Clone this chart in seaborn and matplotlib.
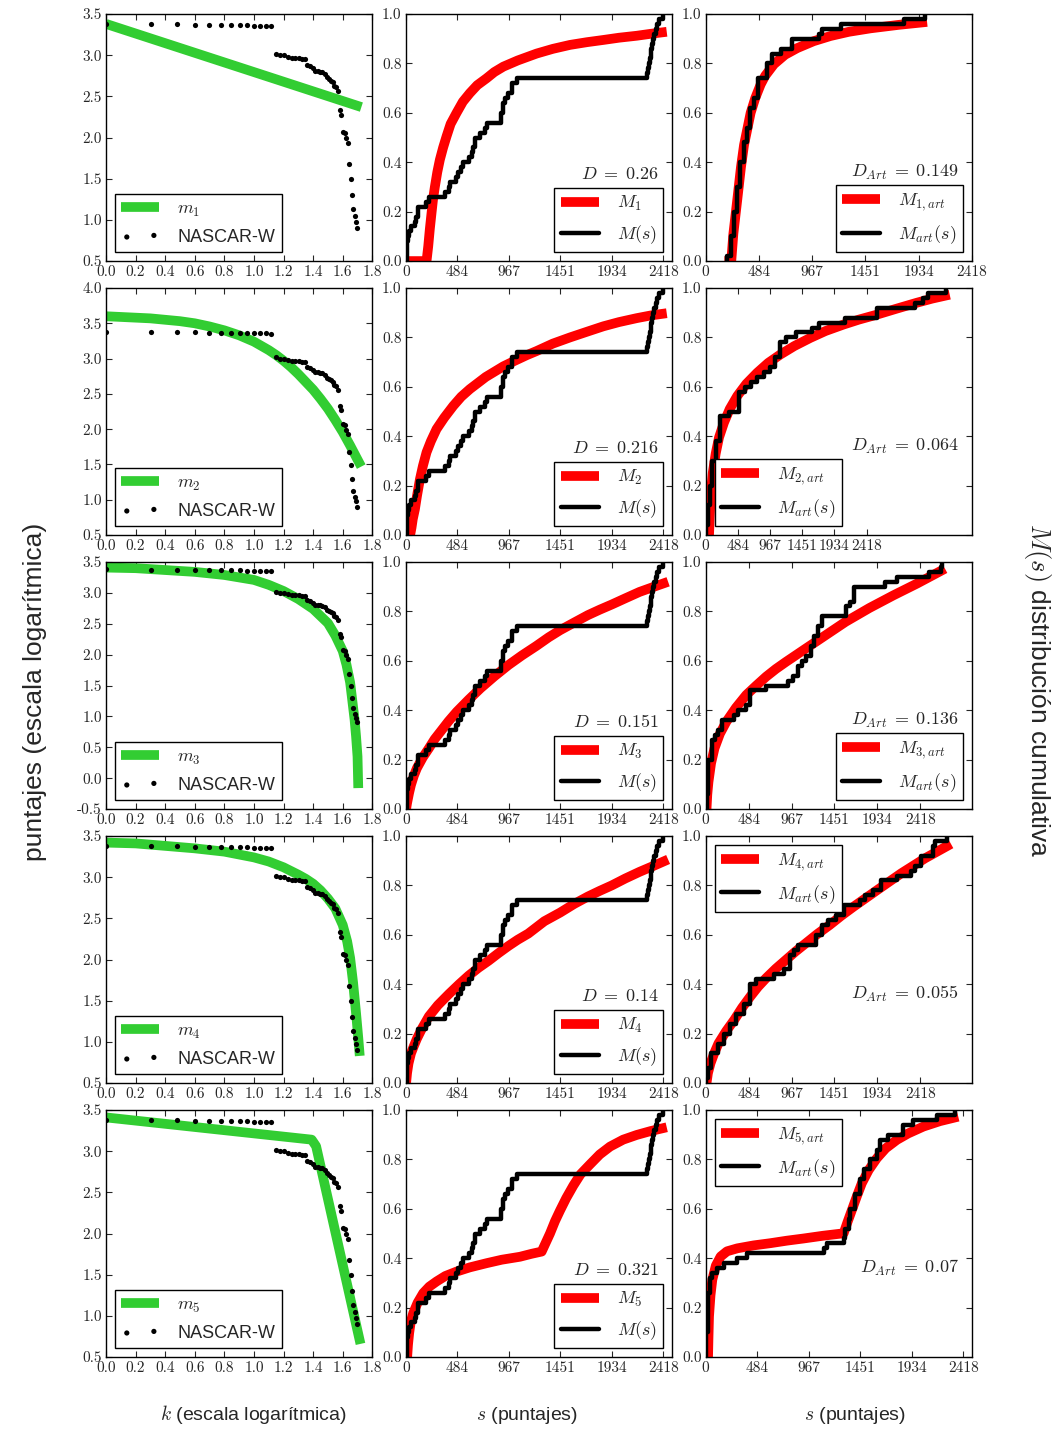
import numpy as np
import pandas as pd
import seaborn as sns
import matplotlib
matplotlib.use('Agg')
import matplotlib.pyplot as plt

# NASCAR-W final scores (puntajes), ranked from k=1
scores = [2418, 2380, 2360, 2345, 2330, 2320, 2315, 2305, 2300, 2290, 2280, 2270, 2265,
          1047, 1000, 1000, 955, 933, 912, 912, 891, 891,
          759, 741, 692, 646, 646, 631, 617, 589, 537, 513, 490, 468, 417, 407, 363,
          214, 190, 117, 115, 98, 85, 48, 31, 20, 13.5, 11, 9.5, 8]

# fitted rank models m_i (log k, log s)
m_logk = [
    [0.0, 1.726],
    [0.0, 0.2, 0.3, 0.4, 0.5, 0.6, 0.7, 0.8, 0.9, 1.0, 1.1, 1.15, 1.2, 1.25, 1.3, 1.35, 1.4, 1.45,
     1.5, 1.55, 1.6, 1.65, 1.7, 1.725],
    [0.0, 0.2, 0.4, 0.6, 0.8, 1.0, 1.1, 1.15, 1.2, 1.3, 1.4, 1.5, 1.55, 1.6, 1.625, 1.65, 1.68, 1.69,
     1.70, 1.705],
    [0.0, 0.2, 0.4, 0.6, 0.8, 1.0, 1.1, 1.2, 1.3, 1.35, 1.4, 1.45, 1.5, 1.55, 1.6, 1.63, 1.65, 1.67,
     1.69, 1.705, 1.715],
    [0.0, 1.39, 1.42, 1.72],
]
m_logs = [
    [3.38, 2.37],
    [3.60, 3.58, 3.57, 3.55, 3.53, 3.50, 3.455, 3.40, 3.33, 3.24, 3.12, 3.05, 2.97, 2.88, 2.78, 2.67,
     2.56, 2.43, 2.29, 2.13, 1.96, 1.77, 1.57, 1.47],
    [3.41, 3.40, 3.37, 3.34, 3.29, 3.21, 3.13, 3.08, 3.03, 2.90, 2.74, 2.51, 2.31, 2.06, 1.84, 1.55,
     0.95, 0.68, 0.35, -0.16],
    [3.42, 3.41, 3.38, 3.35, 3.31, 3.24, 3.19, 3.12, 3.03, 2.98, 2.92, 2.84, 2.74, 2.62, 2.42, 2.22,
     2.02, 1.72, 1.35, 1.05, 0.83],
    [3.41, 3.14, 3.06, 0.66],
]

# model cumulative distributions M_i(s) (middle column)
M_s = [
    [0, 194, 210, 225, 241, 255, 272, 295, 319, 350, 382, 420, 476, 535, 601, 670, 758, 830, 915, 1050,
     1228, 1380, 1541, 1700, 1854, 2000, 2167, 2300, 2449],
    [40, 53, 65, 85, 105, 132, 160, 194, 235, 288, 360, 445, 520, 601, 750, 915, 1020, 1134, 1228, 1380,
     1541, 1700, 1854, 2000, 2167, 2300, 2449],
    [2, 11, 30, 48, 75, 104, 160, 216, 270, 328, 400, 478, 590, 701, 830, 963, 1090, 1224, 1340, 1448,
     1580, 1709, 1820, 1933, 2060, 2194, 2330, 2462],
    [2, 11, 25, 48, 75, 104, 150, 216, 300, 403, 500, 590, 680, 776, 870, 963, 1050, 1149, 1300, 1448,
     1580, 1709, 1820, 1933, 2060, 2194, 2330, 2462],
    [12, 20, 31, 45, 69, 110, 163, 220, 288, 370, 476, 600, 758, 900, 1071, 1180, 1275, 1353, 1400,
     1447, 1505, 1572, 1640, 1729, 1820, 1917, 2040, 2167, 2300, 2449],
]
M_val = [
    [0, 0, 0.06, 0.13, 0.195, 0.25, 0.30, 0.36, 0.41, 0.46, 0.505, 0.555, 0.60, 0.645, 0.68, 0.712,
     0.74, 0.765, 0.787, 0.812, 0.84, 0.859, 0.875, 0.886, 0.895, 0.904, 0.912, 0.92, 0.928],
    [0, 0.03, 0.065, 0.105, 0.16, 0.226, 0.28, 0.335, 0.38, 0.429, 0.475, 0.523, 0.56, 0.591, 0.64,
     0.683, 0.705, 0.728, 0.745, 0.775, 0.80, 0.823, 0.845, 0.862, 0.878, 0.889, 0.898],
    [0, 0.024, 0.065, 0.098, 0.135, 0.166, 0.21, 0.246, 0.283, 0.315, 0.355, 0.394, 0.443, 0.489, 0.537,
     0.583, 0.622, 0.66, 0.695, 0.724, 0.755, 0.785, 0.807, 0.828, 0.853, 0.879, 0.90, 0.92],
    [0, 0.04, 0.08, 0.12, 0.15, 0.18, 0.22, 0.27, 0.315, 0.36, 0.40, 0.435, 0.466, 0.495, 0.526, 0.555,
     0.58, 0.605, 0.655, 0.69, 0.725, 0.755, 0.778, 0.80, 0.828, 0.855, 0.88, 0.905],
    [0, 0.05, 0.097, 0.14, 0.178, 0.22, 0.259, 0.285, 0.306, 0.328, 0.346, 0.363, 0.38, 0.394, 0.406,
     0.418, 0.427, 0.50, 0.55, 0.593, 0.643, 0.694, 0.74, 0.78, 0.82, 0.852, 0.88, 0.899, 0.915, 0.93],
]

# model distributions for the artificial samples (right column)
Ma_s = [
    [170, 232, 251, 287, 320, 348, 408, 450, 499, 540, 620, 720, 831, 980, 1133, 1300, 1496, 1750, 2010],
    [50, 60, 75, 105, 150, 200, 274, 360, 474, 610, 773, 940, 1122, 1330, 1571, 1800, 2069, 2300, 2568,
     2850, 3166, 3400, 3665],
    [9, 18, 31, 60, 99, 160, 233, 340, 457, 570, 681, 790, 905, 1128, 1352, 1576, 1845, 2114, 2382, 2696],
    [9, 25, 54, 95, 143, 230, 322, 410, 502, 590, 681, 790, 905, 1010, 1128, 1260, 1397, 1530, 1666,
     1935, 2203, 2472, 2763],
    [22, 26, 31, 45, 62, 95, 140, 200, 296, 450, 608, 760, 920, 1100, 1295, 1330, 1373, 1420, 1466,
     1530, 1607, 1690, 1794, 1900, 2044, 2200, 2371],
]
Ma_val = [
    [0, 0, 0.11, 0.25, 0.38, 0.47, 0.60, 0.66, 0.715, 0.75, 0.797, 0.835, 0.862, 0.89, 0.911, 0.928,
     0.942, 0.956, 0.968],
    [0, 0.07, 0.16, 0.25, 0.33, 0.395, 0.455, 0.51, 0.563, 0.612, 0.657, 0.697, 0.731, 0.765, 0.798,
     0.826, 0.852, 0.872, 0.892, 0.915, 0.94, 0.957, 0.973],
    [0, 0.06, 0.11, 0.185, 0.246, 0.305, 0.354, 0.41, 0.462, 0.50, 0.536, 0.567, 0.596, 0.65, 0.704,
     0.758, 0.814, 0.865, 0.913, 0.973],
    [0, 0.04, 0.08, 0.12, 0.16, 0.21, 0.256, 0.305, 0.35, 0.39, 0.425, 0.463, 0.499, 0.532, 0.566,
     0.604, 0.64, 0.678, 0.714, 0.782, 0.849, 0.91, 0.968],
    [0, 0.08, 0.164, 0.25, 0.313, 0.37, 0.407, 0.428, 0.44, 0.452, 0.461, 0.471, 0.48, 0.491, 0.501,
     0.545, 0.596, 0.652, 0.704, 0.757, 0.805, 0.845, 0.879, 0.905, 0.933, 0.955, 0.973],
]

# empirical cumulative distribution of the artificial samples (step vertices)
art_s = [
    [196, 196, 227, 257, 287, 311, 348, 372, 402, 438, 474, 559, 604, 680, 786, 1028, 1058, 1224, 1798, 1995],
    [0, 10, 35, 65, 100, 150, 214, 349, 499, 583, 673, 773, 873, 962, 1047, 1122, 1212, 1361, 1596, 1695,
     2094, 2568, 3141, 3266, 3341, 3605],
    [9, 9, 22, 76, 107, 143, 188, 322, 367, 457, 502, 681, 927, 985, 1039, 1084, 1128, 1182, 1218, 1263,
     1307, 1576, 1621, 1666, 2024, 2158, 2517, 2651, 2665],
    [4, 4, 22, 63, 143, 210, 278, 345, 434, 502, 569, 770, 882, 949, 994, 1039, 1240, 1307, 1375, 1464,
     1554, 1733, 1800, 1890, 1979, 2158, 2315, 2360, 2427, 2561, 2584, 2718],
    [6, 6, 22, 41, 62, 109, 172, 296, 390, 1108, 1139, 1295, 1310, 1342, 1357, 1404, 1451, 1482, 1544,
     1607, 1638, 1716, 1856, 1950, 2168, 2340],
]
art_val = [
    [0, .02, .10, .20, .30, .40, .48, .54, .62, .66, .74, .80, .84, .86, .90, .92, .94, .96, .98, 1.0],
    [0, .04, .12, .20, .30, .38, .48, .50, .58, .60, .62, .64, .66, .68, .72, .78, .80, .82, .84, .86,
     .88, .92, .94, .96, .98, 1.0],
    [0, .06, .20, .28, .30, .32, .36, .38, .40, .42, .48, .50, .52, .54, .58, .60, .62, .66, .70, .74,
     .78, .82, .84, .90, .92, .94, .96, .98, 1.0],
    [0, .02, .06, .12, .16, .20, .24, .28, .32, .40, .42, .44, .46, .52, .54, .56, .60, .64, .66, .68,
     .72, .74, .76, .78, .82, .84, .86, .88, .92, .96, .98, 1.0],
    [0, .10, .26, .32, .34, .36, .38, .40, .42, .44, .46, .48, .52, .56, .60, .66, .72, .76, .80, .84,
     .88, .90, .94, .96, .98, 1.0],
]

D_vals = ['0.26', '0.216', '0.151', '0.14', '0.321']
D_art = ['0.149', '0.064', '0.136', '0.055', '0.07']
left_ylims = [(0.5, 3.5), (0.5, 4.0), (-0.5, 3.5), (0.5, 3.5), (0.5, 3.5)]
right_xmax = [2418, 4000, 3000, 3000, 2500]
right_legloc = ['lower right', 'lower left', 'lower right', 'upper left', 'upper left']
s_ticks = [0, 483.6, 967.2, 1450.8, 1934.4, 2418]
s_labels = ['0', '484', '967', '1451', '1934', '2418']

sns.set_style('white', {'axes.edgecolor': 'black'})
plt.rcParams['font.family'] = ['Liberation Sans', 'DejaVu Sans']
plt.rcParams['mathtext.fontset'] = 'cm'
plt.rcParams['axes.unicode_minus'] = False

GREEN = '#32cd32'
RED = '#ff0000'

fig, axes = plt.subplots(5, 3, figsize=(10.54, 14.30), dpi=100)
fig.subplots_adjust(left=0.1006, right=0.9222, bottom=0.0510, top=0.9902, wspace=0.126, hspace=0.109)

rank = np.arange(1, len(scores) + 1)
df = pd.DataFrame({'logk': np.log10(rank), 'logs': np.log10(scores), 's': scores})

leg_kw = dict(fontsize=13, frameon=True, fancybox=False, framealpha=1, edgecolor='black',
              borderaxespad=0.5, handlelength=2.1, handletextpad=1.0, labelspacing=0.55, borderpad=0.35)


def style(ax):
    ax.tick_params(direction='in', top=True, right=True, bottom=True, left=True, length=4,
                   width=0.8, labelsize=11, pad=3, labelfontfamily='cmr10')
    for sp in ax.spines.values():
        sp.set_edgecolor('black')
        sp.set_linewidth(1.0)
    ax.set(xlabel='', ylabel='')


for i in range(5):
    # left: rank plot
    ax = axes[i, 0]
    sns.lineplot(x=m_logk[i], y=m_logs[i], ax=ax, color=GREEN, lw=7, sort=False, estimator=None,
                 solid_capstyle='butt', label=f'$m_{i + 1}$')
    sns.scatterplot(data=df, x='logk', y='logs', ax=ax, color='black', s=14, linewidth=0,
                    zorder=3, label='NASCAR-W')
    ax.set_xlim(0, 1.8)
    ax.set_ylim(*left_ylims[i])
    ax.set_xticks(np.arange(0, 1.81, 0.2))
    ax.set_xticklabels([f'{v:.1f}' for v in np.arange(0, 1.81, 0.2)])
    yt = np.arange(left_ylims[i][0], left_ylims[i][1] + 0.01, 0.5)
    ax.set_yticks(yt)
    ax.set_yticklabels([f'{v:.1f}' for v in yt])
    ax.legend(loc='lower left', scatterpoints=2, **leg_kw)
    style(ax)

    # middle: cumulative distribution of real scores
    ax = axes[i, 1]
    sns.lineplot(x=M_s[i], y=M_val[i], ax=ax, color=RED, lw=7, sort=False, estimator=None,
                 solid_capstyle='butt', label=f'$M_{i + 1}$')
    sns.ecdfplot(data=df, x='s', ax=ax, color='black', lw=3.2, label='$M(s)$')
    ax.set_xlim(0, 2500)
    ax.set_ylim(0, 1)
    ax.set_xticks(s_ticks)
    ax.set_xticklabels(s_labels)
    ax.set_yticks(np.arange(0, 1.01, 0.2))
    ax.set_yticklabels([f'{v:.1f}' for v in np.arange(0, 1.01, 0.2)])
    ax.text(0.95, 0.35, f'$D\\;=\\;{D_vals[i]}$', transform=ax.transAxes, ha='right', va='center',
            fontsize=13)
    ax.legend(loc='lower right', **leg_kw)
    style(ax)

    # right: artificial sample
    ax = axes[i, 2]
    sns.lineplot(x=Ma_s[i], y=Ma_val[i], ax=ax, color=RED, lw=7, sort=False, estimator=None,
                 solid_capstyle='butt', label=f'$M_{{{i + 1},art}}$')
    sns.lineplot(x=art_s[i], y=art_val[i], ax=ax, color='black', lw=3.2, sort=False, estimator=None,
                 drawstyle='steps-post', label='$M_{art}(s)$')
    ax.set_xlim(0, right_xmax[i])
    ax.set_ylim(0, 1)
    ax.set_xticks(s_ticks)
    ax.set_xticklabels(s_labels)
    ax.set_yticks(np.arange(0, 1.01, 0.2))
    ax.set_yticklabels([f'{v:.1f}' for v in np.arange(0, 1.01, 0.2)])
    ax.text(0.95, 0.36, f'$D_{{Art}}\\;=\\;{D_art[i]}$', transform=ax.transAxes, ha='right',
            va='center', fontsize=13)
    ax.legend(loc=right_legloc[i], **leg_kw)
    style(ax)

fig.text(35 / 1054, 1 - 692 / 1430, 'puntajes (escala logarítmica)', rotation=90,
         ha='center', va='center', fontsize=19)
fig.text(1037 / 1054, 1 - 690 / 1430, '$M(s)$ distribución cumulativa', rotation=-90,
         ha='center', va='center', fontsize=19)
fig.text(253 / 1054, 1 - 1415 / 1430, '$k$ (escala logarítmica)', ha='center', va='center', fontsize=14)
fig.text(527 / 1054, 1 - 1415 / 1430, '$s$ (puntajes)', ha='center', va='center', fontsize=14)
fig.text(855 / 1054, 1 - 1415 / 1430, '$s$ (puntajes)', ha='center', va='center', fontsize=14)

fig.savefig('out.png', dpi=100)
